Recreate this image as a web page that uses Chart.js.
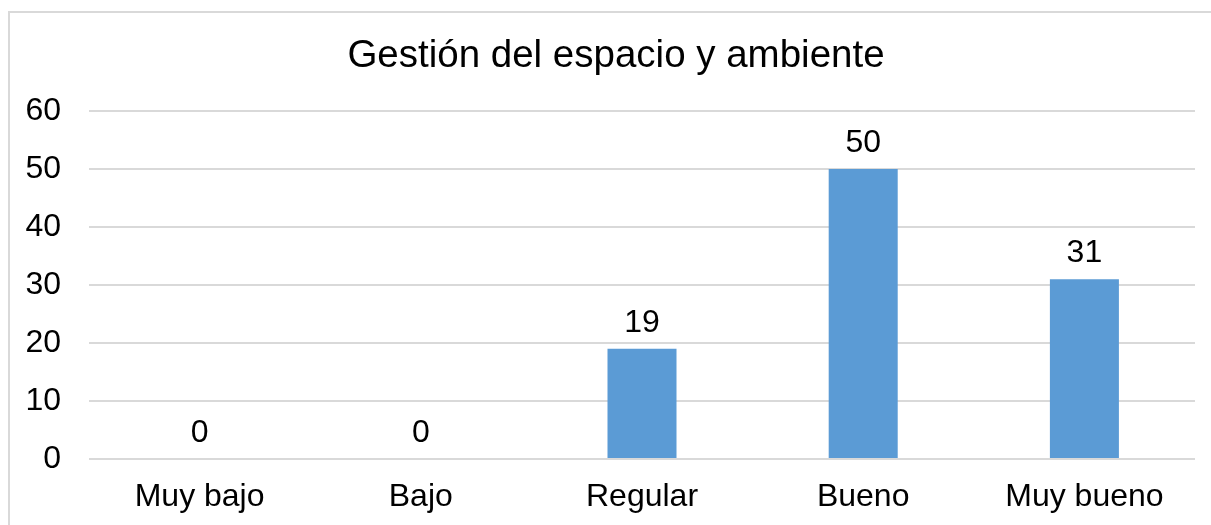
<!DOCTYPE html>
<html lang="es">
<head>
<meta charset="UTF-8">
<title>Gestión del espacio y ambiente</title>
<script src="https://cdn.jsdelivr.net/npm/chart.js@4/dist/chart.umd.min.js"></script>
<style>
    html, body {
        margin: 0;
        padding: 0;
        background: #ffffff;
        overflow: hidden;
    }
    .chart-wrap {
        position: relative;
        width: 1211px;
        height: 525px;
    }
    .chart-border {
        position: absolute;
        left: 8px;
        top: 11px;
        width: 1220px;
        height: 540px;
        border: 2px solid #d9d9d9;
        box-sizing: border-box;
        pointer-events: none;
    }
</style>
</head>
<body>
<div class="chart-wrap">
    <canvas id="espacioChart" width="1211" height="525"></canvas>
    <div class="chart-border"></div>
</div>
<script>
// Chart data
const categories = ['Muy bajo', 'Bajo', 'Regular', 'Bueno', 'Muy bueno'];
const values = [0, 0, 19, 50, 31];
const yTicks = [0, 10, 20, 30, 40, 50, 60];
const chartTitle = 'Gestión del espacio y ambiente';

const FONT = "Arial, 'Liberation Sans', sans-serif";

// Draw the value above each bar
const barValueLabels = {
    id: 'barValueLabels',
    afterDatasetsDraw(chart) {
        const ctx = chart.ctx;
        const meta = chart.getDatasetMeta(0);
        ctx.save();
        ctx.font = '32px ' + FONT;
        ctx.fillStyle = '#000000';
        ctx.textAlign = 'center';
        ctx.textBaseline = 'alphabetic';
        meta.data.forEach((bar, i) => {
            ctx.fillText(String(values[i]), bar.x, bar.y - 17);
        });
        ctx.restore();
    }
};

// Title sits a bit right of the canvas centre in the original, so draw it here
const offsetTitle = {
    id: 'offsetTitle',
    afterDraw(chart) {
        const ctx = chart.ctx;
        ctx.save();
        ctx.font = '38.5px ' + FONT;
        ctx.fillStyle = '#000000';
        ctx.textAlign = 'center';
        ctx.textBaseline = 'middle';
        ctx.fillText(chartTitle, 616, 56);
        ctx.restore();
    }
};

const ctx = document.getElementById('espacioChart');

new Chart(ctx, {
    type: 'bar',
    data: {
        labels: categories,
        datasets: [{
            label: chartTitle,
            data: values,
            backgroundColor: '#5b9bd5',
            borderWidth: 0,
            categoryPercentage: 1,
            barPercentage: 0.312
        }]
    },
    options: {
        responsive: false,
        animation: false,
        devicePixelRatio: 1,
        layout: {
            padding: { left: 0, right: 16, top: 111, bottom: 0 }
        },
        plugins: {
            legend: { display: false },
            tooltip: { enabled: false },
            title: { display: false }
        },
        scales: {
            x: {
                grid: { display: false, drawTicks: false },
                border: { display: false },
                ticks: {
                    color: '#000000',
                    font: { family: FONT, size: 32 },
                    padding: 19,
                    maxRotation: 0,
                    autoSkip: false
                },
                afterFit(scale) {
                    scale.height = 66;
                }
            },
            y: {
                min: 0,
                max: 60,
                afterBuildTicks(scale) {
                    scale.ticks = yTicks.map(v => ({ value: v }));
                },
                grid: {
                    color: '#d9d9d9',
                    lineWidth: 2,
                    drawTicks: false
                },
                border: { display: false },
                ticks: {
                    color: '#000000',
                    font: { family: FONT, size: 32 },
                    padding: 28
                },
                afterFit(scale) {
                    scale.width = 89;
                }
            }
        }
    },
    plugins: [barValueLabels, offsetTitle]
});
</script>
</body>
</html>
